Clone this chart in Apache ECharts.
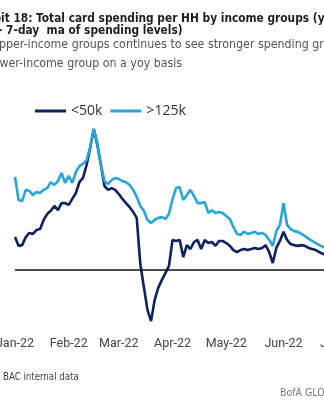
<!DOCTYPE html>
<html>
<head>
<meta charset="utf-8">
<script src="https://cdn.jsdelivr.net/npm/echarts@6/dist/echarts.min.js"></script>
<style>
  html, body { margin: 0; padding: 0; background: #fff; }
  #chart { width: 324px; height: 400px; }
</style>
</head>
<body>
<div id="chart"></div>
<script>
// Daily points sampled every two days, starting 3 Jan 2022
const startDate = '2022-01-03';
const stepDays = 2;
const slotCount = 92;

// yoy %, 7-day moving average
const lowIncome = [
  9.4, 6.9, 7.1, 9.4, 10.6, 10.3, 11.4, 11.7, 14.3, 16.0,
  16.9, 18.3, 17.1, 19.1, 19.1, 18.6, 20.3, 22.0, 25.1, 26.3,
  30.0, 34.9, 40.3, 35.7, 30.0, 24.0, 22.9, 23.4, 22.9, 21.7,
  20.3, 19.1, 18.0, 16.6, 14.9, 1.7, -4.9, -11.4, -14.6, -8.6,
  -5.1, -2.9, -0.9, 1.1, 8.6, 8.3, 8.6, 3.7, 7.1, 6.0,
  8.0, 8.6, 6.0, 8.6, 7.7, 8.0, 6.9, 8.3, 8.3, 7.7,
  6.9, 5.7, 5.1, 5.7, 6.0, 5.7, 6.0, 6.3, 6.0, 6.3,
  7.1, 5.1, 2.0, 6.3, 8.3, 10.9, 8.6, 7.4, 7.1, 6.9,
  7.1, 6.9, 6.3, 6.0, 5.7, 5.1, 4.6, 4.3
];
const highIncome = [
  26.6, 20.0, 19.7, 22.9, 22.6, 21.4, 22.3, 22.0, 22.9, 23.4,
  25.1, 24.3, 25.4, 27.7, 24.9, 26.9, 24.9, 28.0, 29.7, 30.3,
  31.4, 35.1, 40.3, 36.3, 30.0, 25.4, 24.6, 25.7, 26.3, 26.0,
  25.4, 25.1, 24.3, 22.9, 20.9, 18.3, 16.9, 14.3, 13.4, 14.3,
  14.9, 15.1, 14.6, 16.0, 20.3, 23.4, 23.7, 20.0, 21.4, 22.9,
  21.1, 19.1, 19.1, 19.4, 16.3, 17.1, 16.3, 16.6, 16.3, 15.4,
  14.6, 12.3, 10.3, 10.0, 10.9, 10.3, 10.6, 10.9, 10.3, 10.6,
  10.0, 8.6, 6.9, 11.1, 12.9, 19.1, 12.9, 11.7, 11.1, 10.9,
  10.3, 9.7, 8.9, 8.3, 7.7, 7.1, 6.6, 6.0
];
const seriesNames = ['<50k', '>125k'];
const monthNames = ['Jan', 'Feb', 'Mar', 'Apr', 'May', 'Jun', 'Jul', 'Aug', 'Sep', 'Oct', 'Nov', 'Dec'];

const dates = [];
{
  const d0 = new Date(startDate + 'T00:00:00Z');
  for (let i = 0; i < slotCount; i++) {
    const d = new Date(d0.getTime() + i * stepDays * 86400000);
    dates.push(d.toISOString().slice(0, 10));
  }
}
const monthOf = s => s.slice(0, 7);
const showLabel = idx => idx === 0 || monthOf(dates[idx]) !== monthOf(dates[idx - 1]);
const monthLabel = s => monthNames[+s.slice(5, 7) - 1] + '-' + s.slice(2, 4);

const COND = '"DejaVu Sans Condensed", "DejaVu Sans", sans-serif';
const WIDE = '"Open Sans", "Noto Sans", sans-serif';

// width of a leading fragment, used to push the cut-off prefix past the left edge
const measureCtx = document.createElement('canvas').getContext('2d');
function textWidth(str, font) { measureCtx.font = font; return measureCtx.measureText(str).width; }

const titleFont = 'bold 11.8px ' + COND;
const subFont = '12.3px ' + COND;
const srcFont = '9.6px ' + COND;

const chart = echarts.init(document.getElementById('chart'), null, { renderer: 'canvas' });
chart.setOption({
  animation: false,
  backgroundColor: '#ffffff',
  grid: {
    left: 15, right: -(15 + (slotCount - 1) * 3.58 - 324), top: 112.5, bottom: 67,
    containLabel: false, outerBoundsMode: 'none'
  },
  legend: {
    data: seriesNames,
    left: 35, top: 104, padding: 0,
    icon: 'rect', itemWidth: 31, itemHeight: 3, itemGap: 8,
    textStyle: { fontSize: 14, color: '#333', fontFamily: WIDE }
  },
  xAxis: {
    type: 'category', data: dates, boundaryGap: false,
    axisLine: { show: false }, axisTick: { show: false }, splitLine: { show: false },
    axisLabel: {
      interval: (idx) => showLabel(idx),
      formatter: v => monthLabel(v),
      margin: 4, fontSize: 12.5, color: '#444', fontFamily: 'Roboto, sans-serif'
    }
  },
  yAxis: {
    type: 'value', min: -18, max: 45, show: false
  },
  series: [
    {
      name: seriesNames[0], type: 'line', data: lowIncome, showSymbol: false,
      lineStyle: { color: '#0e2160', width: 2.6 }, itemStyle: { color: '#0e2160' }, z: 3,
      markLine: {
        silent: true, symbol: 'none', label: { show: false },
        lineStyle: { color: '#111', width: 1.5, type: 'solid' },
        data: [{ yAxis: 0 }]
      }
    },
    {
      name: seriesNames[1], type: 'line', data: highIncome, showSymbol: false,
      lineStyle: { color: '#27a6de', width: 2.6 }, itemStyle: { color: '#27a6de' }, z: 4
    }
  ],
  graphic: [
    { type: 'text', x: 1 - textWidth('Exhib', titleFont), y: 19,
      style: { text: 'Exhibit 18: Total card spending per HH by income groups (yoy', font: titleFont, fill: '#1e1e1e', verticalAlign: 'middle' } },
    { type: 'text', x: -2, y: 31,
      style: { text: '- 7-day  ma of spending levels)', font: titleFont, fill: '#1e1e1e', verticalAlign: 'middle' } },
    { type: 'text', x: -1 - textWidth('U', subFont), y: 45,
      style: { text: 'Upper-income groups continues to see stronger spending growth than the', font: subFont, fill: '#555', verticalAlign: 'middle' } },
    { type: 'text', x: -0.5 - textWidth('lo', subFont), y: 64,
      style: { text: 'lower-income group on a yoy basis', font: subFont, fill: '#555', verticalAlign: 'middle' } },
    { type: 'text', x: 3 - textWidth('Source: ', srcFont), y: 377,
      style: { text: 'Source: BAC internal data', font: srcFont, fill: '#444', verticalAlign: 'middle' } },
    { type: 'text', x: 280, y: 393,
      style: { text: 'BofA GLOBAL RESEARCH', font: '10.5px ' + COND, fill: '#777', verticalAlign: 'middle' } }
  ]
});
</script>
</body>
</html>
